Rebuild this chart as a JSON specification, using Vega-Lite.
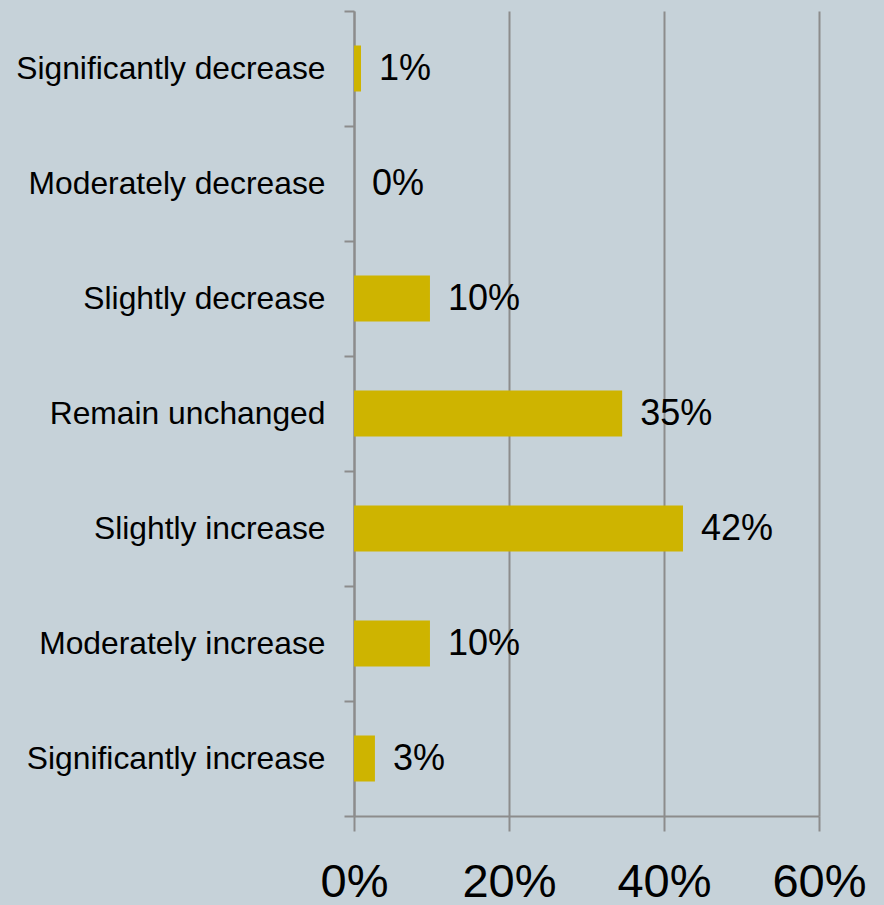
{
  "$schema": "https://vega.github.io/schema/vega-lite/v6.json",
  "width": 465,
  "height": 805,
  "autosize": {"type": "none"},
  "padding": {"left": 354, "top": 11, "right": 65, "bottom": 89},
  "background": "#c6d2d9",
  "config": {"view": {"stroke": null}, "font": "Liberation Sans"},
  "data": {
    "values": [
      {"category": "Significantly decrease", "share": 0.009},
      {"category": "Moderately decrease", "share": 0.0},
      {"category": "Slightly decrease", "share": 0.098},
      {"category": "Remain unchanged", "share": 0.346},
      {"category": "Slightly increase", "share": 0.4245},
      {"category": "Moderately increase", "share": 0.098},
      {"category": "Significantly increase", "share": 0.027}
    ]
  },
  "encoding": {
    "y": {
      "field": "category",
      "type": "nominal",
      "sort": null,
      "scale": {"paddingInner": 0, "paddingOuter": 0},
      "axis": {
        "title": null,
        "bandPosition": 1,
        "tickExtra": true,
        "labelOffset": 0,
        "tickSize": 10,
        "tickWidth": 2,
        "tickColor": "#8c8c8c",
        "domainColor": "#8c8c8c",
        "domainWidth": 2,
        "labelFontSize": 31.8,
        "labelColor": "#000000",
        "labelPadding": 19,
        "labelLimit": 400,
        "labelFont": "Liberation Sans",
        "grid": false
      }
    },
    "x": {
      "field": "share",
      "type": "quantitative",
      "scale": {"domain": [0, 0.6], "nice": false},
      "axis": {
        "title": null,
        "format": ".0%",
        "values": [0, 0.2, 0.4, 0.6],
        "grid": true,
        "gridColor": "#8c8c8c",
        "gridWidth": 2,
        "gridOpacity": 1,
        "tickSize": 15,
        "tickWidth": 2,
        "tickColor": "#8c8c8c",
        "domainColor": "#8c8c8c",
        "domainWidth": 2,
        "labelFontSize": 47,
        "labelColor": "#000000",
        "labelPadding": 28,
        "labelFont": "Liberation Sans",
        "labelFlush": false,
        "labelOverlap": false
      }
    }
  },
  "layer": [
    {
      "mark": {"type": "bar", "color": "#ceb400", "height": {"band": 0.4}}
    },
    {
      "mark": {"type": "text", "align": "left", "baseline": "middle", "dx": 18, "fontSize": 36, "color": "#000000", "font": "Liberation Sans"},
      "encoding": {
        "text": {"field": "share", "type": "quantitative", "format": ".0%"}
      }
    }
  ]
}
